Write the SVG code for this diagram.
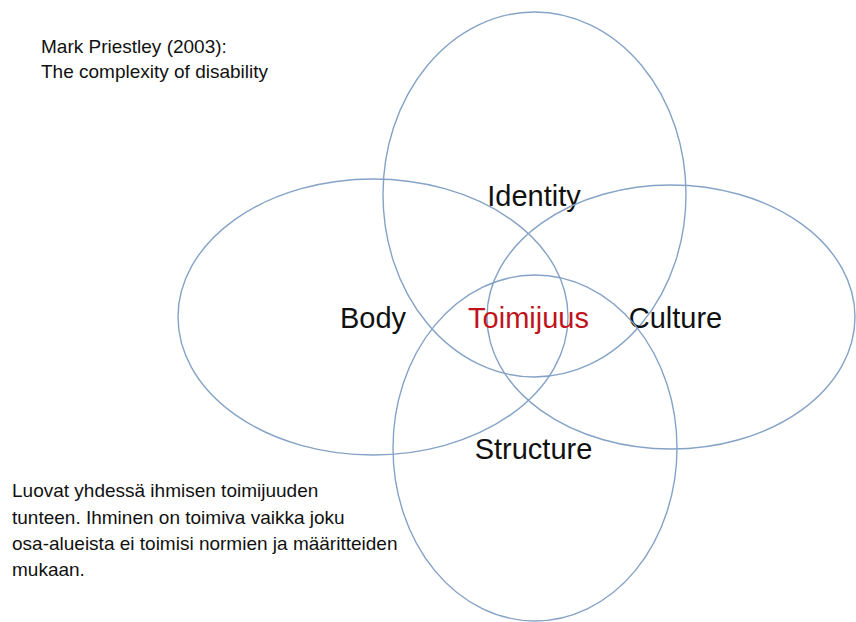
<svg xmlns="http://www.w3.org/2000/svg" width="856" height="622" viewBox="0 0 856 622">
<style>
.ring{fill:none;stroke:#85a3c6;stroke-width:1.4}
.lbl{font-family:"Liberation Sans",Arial,sans-serif;font-size:29px;fill:#111;text-anchor:middle}
.note{font-family:"Liberation Sans",Arial,sans-serif;font-size:19px;fill:#111}
</style>
<rect width="856" height="622" fill="#fff"/>
<g id="identity"><ellipse class="ring" cx="534.5" cy="194.5" rx="151.5" ry="182.5"/><text class="lbl" x="534" y="206">Identity</text></g>
<g id="body"><ellipse class="ring" cx="373" cy="317" rx="195" ry="138"/><text class="lbl" x="373" y="328">Body</text></g>
<g id="culture"><ellipse class="ring" cx="671" cy="317" rx="184" ry="132"/><text class="lbl" x="675.5" y="328">Culture</text></g>
<g id="structure"><ellipse class="ring" cx="535" cy="448" rx="142" ry="173"/><text class="lbl" x="533.5" y="459">Structure</text></g>
<g id="toimijuus"><text class="lbl" x="528.5" y="328" style="fill:#c0141c">Toimijuus</text></g>
<g id="connectors"></g>
<g id="title"><text class="note" x="41" y="53">Mark Priestley (2003):</text><text class="note" x="41" y="78">The complexity of disability</text></g>
<g id="caption"><text class="note" x="12" y="497">Luovat yhdessä ihmisen toimijuuden</text><text class="note" x="12" y="524">tunteen. Ihminen on toimiva vaikka joku</text><text class="note" x="12" y="550">osa-alueista ei toimisi normien ja määritteiden</text><text class="note" x="12" y="576">mukaan.</text></g>
</svg>
